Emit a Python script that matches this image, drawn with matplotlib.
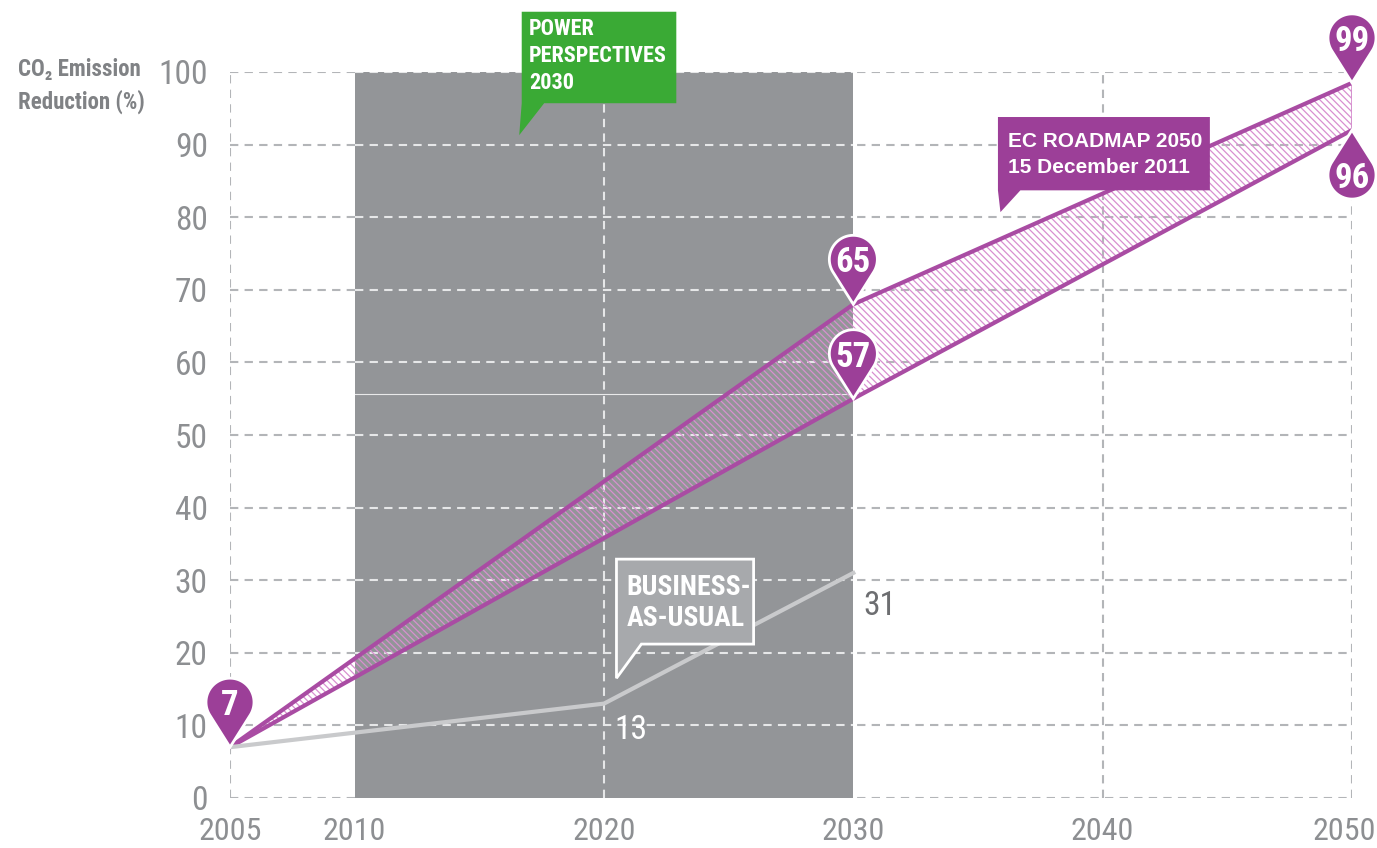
import numpy as np
import matplotlib
matplotlib.use("Agg")
import matplotlib.pyplot as plt
from matplotlib import font_manager
from matplotlib.font_manager import FontProperties
from matplotlib.patches import Polygon, Rectangle
from matplotlib.transforms import Affine2D, ScaledTranslation


# look for a condensed face (the original uses DIN Condensed)
def find_condensed(bold):
    best, best_score = None, -1
    for f in font_manager.fontManager.ttflist:
        st = str(f.stretch).lower()
        nm = f.name.lower()
        cond = ('condensed' in st or 'narrow' in nm or 'condensed' in nm
                or 'condensed' in f.fname.lower() or 'narrow' in f.fname.lower())
        if not cond or f.style != 'normal':
            continue
        w = f.weight if isinstance(f.weight, int) else (700 if 'bold' in str(f.weight) else 400)
        score = 10 - abs(w - (700 if bold else 400)) / 100
        if 'roboto' in nm:
            score += 3
        if score > best_score:
            best, best_score = f.fname, score
    return best


def fp(bold=False, size=12):
    path = find_condensed(bold)
    if path:
        return FontProperties(fname=path, size=size)
    return FontProperties(family='DejaVu Sans', weight='bold' if bold else 'normal',
                          size=size * 0.8)


# data
roadmap_years = [2005, 2030, 2050]
roadmap_high = [7, 68, 98.5]
roadmap_low = [7, 55, 92]
bau_years = [2005, 2020, 2030]
bau_values = [7, 13, 31]
pin_labels_high = ['7', '65', '99']
pin_labels_low = [None, '57', '96']
x_ticks = [2005, 2010, 2020, 2030, 2040, 2050]
y_ticks = list(range(0, 101, 10))
pp_span = (2010, 2030)

# colours
purple = '#9c3f98'
purple_line = '#a94ca3'
hatch_pink = '#d88fd0'
grey_box = '#939598'
grid_grey = '#b3b5b8'
tick_grey = '#8d8f92'
green = '#3aaa35'

plt.rcParams['hatch.linewidth'] = 0.9

W, H = 1377, 848
fig = plt.figure(figsize=(W / 100, H / 100), dpi=100)
ax = fig.add_axes([230 / W, (H - 798) / H, (1352 - 230) / W, (798 - 72) / H])
ax.set_xlim(2005, 2050)
ax.set_ylim(0, 100)
for s in ax.spines.values():
    s.set_visible(False)

# grid on white
dash = dict(color=grid_grey, lw=1.5, dashes=(4, 3))
for y in y_ticks:
    ax.plot([2005, 2050], [y, y], zorder=1, **dash)
for x in [2005, 2020, 2040, 2050]:
    ax.plot([x, x], [0, 100], zorder=1, **dash)

# power perspectives period
ax.add_patch(Rectangle((pp_span[0], 0), pp_span[1] - pp_span[0], 100,
                       color=grey_box, lw=0, zorder=2))
wdash = dict(color='#e6e7e8', lw=1.5, dashes=(4, 3))
for y in y_ticks[1:]:
    ax.plot(pp_span, [y, y], zorder=3, **wdash)
ax.plot([2020, 2020], [0, 100], zorder=3, **wdash)
ax.plot(pp_span, [55.6, 55.6], color='white', lw=0.8, alpha=0.8, zorder=3)

# roadmap corridor
ax.fill_between(roadmap_years, roadmap_low, roadmap_high, facecolor='none',
                edgecolor=hatch_pink, hatch='\\\\\\\\\\', lw=0, zorder=4)
ax.plot(roadmap_years, roadmap_high, color=purple_line, lw=3, zorder=5)
ax.plot(roadmap_years, roadmap_low, color=purple_line, lw=3, zorder=5)
ax.plot([2050, 2050], [roadmap_low[-1], roadmap_high[-1]], color=hatch_pink,
        lw=2, zorder=4)

# business as usual
ax.plot(bau_years, bau_values, color='#c9cacc', lw=3, zorder=5)
ax.text(2020.4, 9.3, str(bau_values[1]), color='white', fontproperties=fp(False, 24),
        ha='left', va='center', zorder=6)
ax.text(2030.4, 26.5, str(bau_values[2]), color='#6d6e71', fontproperties=fp(False, 24),
        ha='left', va='center', zorder=6)


def pin(x, y, label, flip=False):
    r, h = 24, 45
    a = np.arccos(r / h)
    th = np.linspace(-np.pi / 2 + a, 3 * np.pi / 2 - a, 80)
    xs = np.concatenate([[0], r * np.cos(th)])
    ys = np.concatenate([[0], h + r * np.sin(th)])
    if flip:
        ys = -ys
    tr = Affine2D() + ScaledTranslation(x, y, ax.transData)
    ax.add_patch(Polygon(np.column_stack([xs, ys]), closed=True, transform=tr,
                         fc=purple, ec='white', lw=2, clip_on=False, zorder=8))
    ax.annotate(label, (x, y), xytext=(0, -h if flip else h),
                textcoords='offset pixels', ha='center', va='center_baseline',
                color='white', fontproperties=fp(True, 25),
                zorder=9, annotation_clip=False)


for x, y, lab in zip(roadmap_years, roadmap_high, pin_labels_high):
    pin(x, y, lab)
for x, y, lab in zip(roadmap_years, roadmap_low, pin_labels_low):
    if lab:
        pin(x, y, lab, flip=x == 2050)


def callout(x0, x1, y0, y1, xa, tip, fc, ec=None, lw=0):
    pts = [(x0, y0), (x0, y1), (x1, y1), (x1, y0), (xa, y0), tip]
    ax.add_patch(Polygon(pts, closed=True, fc=fc, ec=ec or fc, lw=lw,
                         clip_on=False, zorder=7, joinstyle='miter'))


callout(2016.7, 2022.9, 95.7, 108.3, 2017.6, (2016.6, 91.3), green)
ax.text(2017.0, 107.4, 'POWER\nPERSPECTIVES\n2030', color='white',
        fontproperties=fp(True, 16), va='top', ha='left',
        linespacing=1.3, zorder=8, clip_on=False)

callout(2035.8, 2044.3, 83.7, 93.8, 2036.7, (2035.9, 80.7), purple)
ax.text(2036.2, 88.6, 'EC ROADMAP 2050\n15 December 2011', color='white',
        fontsize=15, fontweight='bold', family='Liberation Sans', va='center',
        ha='left', linespacing=1.45, zorder=8)

callout(2020.5, 2026.0, 21.2, 32.9, 2021.5, (2020.5, 16.5), '#a7a9ac',
        ec='white', lw=2)
ax.text(2020.9, 26.9, 'BUSINESS-\nAS-USUAL', color='white',
        fontproperties=fp(True, 20), va='center', ha='left',
        linespacing=1.2, zorder=8)

# axes labels (the last year label sits against the right edge)
ax.set_xticks(x_ticks)
ax.set_xticklabels([str(x) for x in x_ticks[:-1]] + [''])
ax.set_yticks(y_ticks)
ax.tick_params(length=0, colors=tick_grey)
for t in ax.get_xticklabels():
    t.set_fontproperties(fp(False, 23))
for t in ax.get_yticklabels():
    t.set_fontproperties(fp(False, 24))
ax.tick_params(axis='x', pad=14)
ax.tick_params(axis='y', pad=16)
ax.annotate(str(x_ticks[-1]), (x_ticks[-1], 0), xytext=(24, -19),
            textcoords='offset pixels', ha='right', va='top', color=tick_grey,
            fontproperties=fp(False, 23), annotation_clip=False)

fig.text(18 / W, 1 - 86 / H, 'CO\u2082 Emission\nReduction (%)', color='#808285',
         fontproperties=fp(True, 16.5), ha='left', va='center', linespacing=1.45)

fig.savefig('out.png', dpi=100)
